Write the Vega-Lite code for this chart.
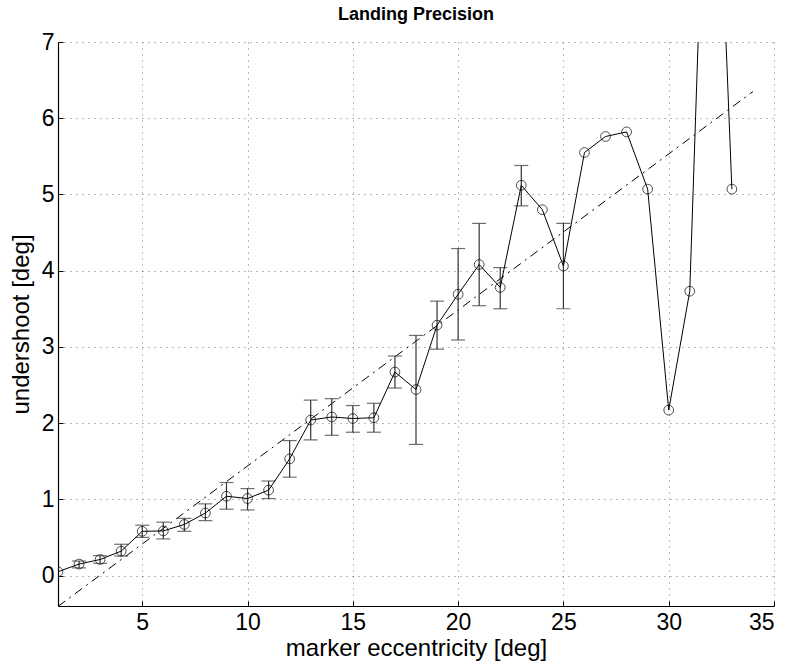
{
  "$schema": "https://vega.github.io/schema/vega-lite/v6.json",
  "autosize": "none",
  "width": 716,
  "height": 564,
  "padding": {"left": 58, "top": 42, "right": 14, "bottom": 60},
  "background": "white",
  "title": {"text": "Landing Precision", "font": "Liberation Sans", "fontSize": 18, "fontWeight": "bold", "color": "black", "anchor": "middle", "offset": 7},
  "config": {
    "view": {"stroke": null},
    "axis": {
      "labelFont": "Liberation Sans", "titleFont": "Liberation Sans",
      "labelFontSize": 23, "titleFontSize": 24, "titleFontWeight": "normal",
      "labelColor": "black", "titleColor": "black",
      "domainColor": "black", "domainWidth": 1.2,
      "tickColor": "black", "tickSize": -5, "tickWidth": 1,
      "gridColor": "#555", "gridDash": [1, 5], "gridWidth": 1, "gridOpacity": 0.8
    }
  },
  "datasets": {
    "pts": [
      {"x": 1, "y": 0.05}, {"x": 2, "y": 0.15}, {"x": 3, "y": 0.21}, {"x": 4, "y": 0.32},
      {"x": 5, "y": 0.58}, {"x": 6, "y": 0.585}, {"x": 7, "y": 0.67}, {"x": 8, "y": 0.82},
      {"x": 9, "y": 1.04}, {"x": 10, "y": 1.01}, {"x": 11, "y": 1.12}, {"x": 12, "y": 1.53},
      {"x": 13, "y": 2.04}, {"x": 14, "y": 2.08}, {"x": 15, "y": 2.06}, {"x": 16, "y": 2.07},
      {"x": 17, "y": 2.67}, {"x": 18, "y": 2.44}, {"x": 19, "y": 3.285}, {"x": 20, "y": 3.69},
      {"x": 21, "y": 4.08}, {"x": 22, "y": 3.78}, {"x": 23, "y": 5.12}, {"x": 24, "y": 4.8},
      {"x": 25, "y": 4.06}, {"x": 26, "y": 5.55}, {"x": 27, "y": 5.76}, {"x": 28, "y": 5.82},
      {"x": 29, "y": 5.07}, {"x": 30, "y": 2.17}, {"x": 31, "y": 3.73}, {"x": 32, "y": 12.0},
      {"x": 33, "y": 5.07}
    ],
    "err": [
      {"x": 2, "lo": 0.10, "hi": 0.19}, {"x": 3, "lo": 0.16, "hi": 0.26},
      {"x": 4, "lo": 0.255, "hi": 0.41}, {"x": 5, "lo": 0.50, "hi": 0.66},
      {"x": 6, "lo": 0.48, "hi": 0.70}, {"x": 7, "lo": 0.58, "hi": 0.75},
      {"x": 8, "lo": 0.72, "hi": 0.94}, {"x": 9, "lo": 0.87, "hi": 1.22},
      {"x": 10, "lo": 0.86, "hi": 1.14}, {"x": 11, "lo": 1.01, "hi": 1.24},
      {"x": 12, "lo": 1.29, "hi": 1.77}, {"x": 13, "lo": 1.78, "hi": 2.30},
      {"x": 14, "lo": 1.84, "hi": 2.32}, {"x": 15, "lo": 1.88, "hi": 2.23},
      {"x": 16, "lo": 1.88, "hi": 2.26}, {"x": 17, "lo": 2.46, "hi": 2.88},
      {"x": 18, "lo": 1.72, "hi": 3.15}, {"x": 19, "lo": 2.97, "hi": 3.60},
      {"x": 20, "lo": 3.09, "hi": 4.29}, {"x": 21, "lo": 3.54, "hi": 4.62},
      {"x": 22, "lo": 3.50, "hi": 4.04}, {"x": 23, "lo": 4.85, "hi": 5.38},
      {"x": 25, "lo": 3.50, "hi": 4.62}
    ],
    "fit": [{"x": 1, "y": -0.405}, {"x": 34, "y": 6.35}]
  },
  "layer": [
    {
      "data": {"name": "fit"},
      "mark": {"type": "line", "color": "black", "strokeWidth": 1, "strokeDash": [9, 5, 2, 5], "clip": true},
      "encoding": {
        "x": {"field": "x", "type": "quantitative", "scale": {"domain": [1, 35], "nice": false, "zero": false},
              "axis": {"values": [5, 10, 15, 20, 25, 30, 35], "format": "d", "title": "marker eccentricity [deg]", "grid": true, "labelPadding": 10, "titlePadding": 2}},
        "y": {"field": "y", "type": "quantitative", "scale": {"domain": [-0.4, 7], "nice": false, "zero": false},
              "axis": {"values": [0, 1, 2, 3, 4, 5, 6, 7], "format": "d", "title": "undershoot [deg]", "grid": true, "labelPadding": 9, "titlePadding": 8}}
      }
    },
    {
      "data": {"name": "err"},
      "mark": {"type": "rule", "color": "#333", "strokeWidth": 1.2},
      "encoding": {
        "x": {"field": "x", "type": "quantitative"},
        "y": {"field": "lo", "type": "quantitative"},
        "y2": {"field": "hi"}
      }
    },
    {
      "data": {"name": "err"},
      "mark": {"type": "tick", "orient": "horizontal", "color": "#333", "size": 14, "thickness": 1.2},
      "encoding": {
        "x": {"field": "x", "type": "quantitative"},
        "y": {"field": "lo", "type": "quantitative"}
      }
    },
    {
      "data": {"name": "err"},
      "mark": {"type": "tick", "orient": "horizontal", "color": "#333", "size": 14, "thickness": 1.2},
      "encoding": {
        "x": {"field": "x", "type": "quantitative"},
        "y": {"field": "hi", "type": "quantitative"}
      }
    },
    {
      "data": {"name": "pts"},
      "mark": {"type": "line", "color": "black", "strokeWidth": 1, "clip": true},
      "encoding": {
        "x": {"field": "x", "type": "quantitative"},
        "y": {"field": "y", "type": "quantitative"}
      }
    },
    {
      "data": {"name": "pts"},
      "mark": {"type": "point", "shape": "circle", "filled": false, "color": "black", "size": 95, "strokeWidth": 1, "clip": true},
      "encoding": {
        "x": {"field": "x", "type": "quantitative"},
        "y": {"field": "y", "type": "quantitative"}
      }
    }
  ]
}
